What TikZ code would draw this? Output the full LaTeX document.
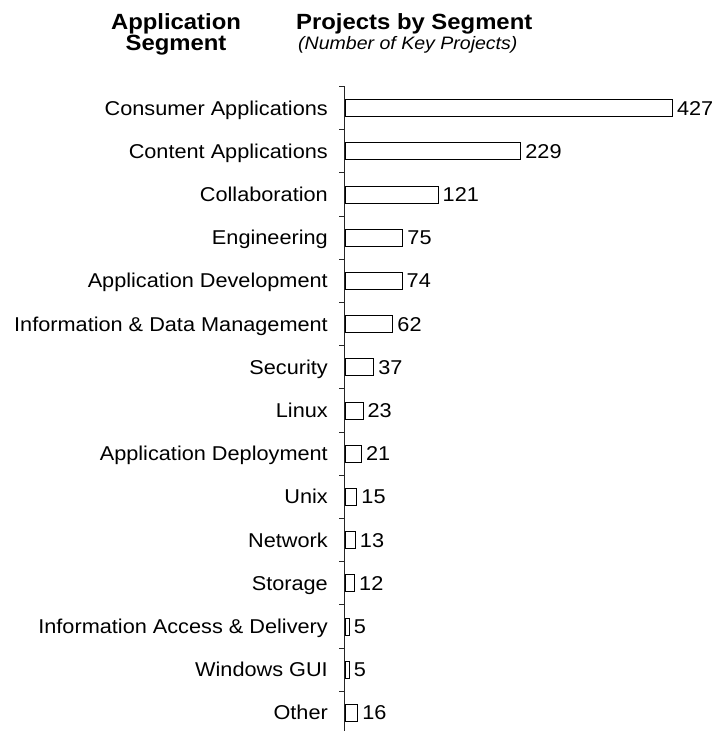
\documentclass[tikz,border=0pt]{standalone}
\usepackage{fontspec}
\setmainfont[FakeStretch=1.085]{Liberation Sans}
\tikzset{
  catlabel/.style={anchor=base east, inner sep=0pt, font=\fontsize{20}{24}\selectfont},
  vallabel/.style={anchor=base west, inner sep=0pt, font=\fontsize{20}{24}\selectfont},
  barbox/.style={draw=black, fill=white, line width=0.8pt, inner sep=0pt, anchor=west, minimum height=17pt},
  axisline/.style={draw=black!85, line width=1.1pt},
  tickline/.style={draw=black!85, line width=1.1pt},
  headbold/.style={inner sep=0pt, font=\fontsize{22}{24}\selectfont\bfseries},
  headital/.style={inner sep=0pt, font=\fontsize{18}{22}\selectfont\itshape}
}
\begin{document}
\begin{tikzpicture}[x=1pt,y=-1pt]
\useasboundingbox (0,0) rectangle (717,731);
% headings
\node[headbold, anchor=base] (h1) at (176,29) {Application};
\node[headbold, anchor=base] (h2) at (176,50) {Segment};
\node[headbold, anchor=base west] (h3) at (296,29) {Projects by Segment};
\node[headital, anchor=base west] (h4) at (298,49) {(Number of Key Projects)};
% axis
\coordinate (axtop) at (344.5,86.5);
\coordinate (axbot) at (344.5,731);
\draw[axisline] (axtop) -- (axbot);
\foreach \k in {0,...,14} {
  \coordinate (t\k) at (344.5,86.5+43.2*\k);
  \draw[tickline] (t\k) -- ++(-6,0);
}
% bars
\foreach [count=\i from 0] \lab/\v in {
  Consumer Applications/427,
  Content Applications/229,
  Collaboration/121,
  Engineering/75,
  Application Development/74,
  Information \& Data Management/62,
  Security/37,
  Linux/23,
  Application Deployment/21,
  Unix/15,
  Network/13,
  Storage/12,
  Information Access \& Delivery/5,
  Windows GUI/5,
  Other/16} {
  \pgfmathsetmacro\yc{108+43.2*\i}
  \pgfmathsetmacro\w{0.766*\v}
  \node[catlabel] (c\i) at (328,\yc+7) {\lab};
  \node[barbox, minimum width=\w pt] (b\i) at (345,\yc) {};
  \node[vallabel] (v\i) at ([xshift=4pt,yshift=-7pt]b\i.east) {\v};
}
\end{tikzpicture}
\end{document}
